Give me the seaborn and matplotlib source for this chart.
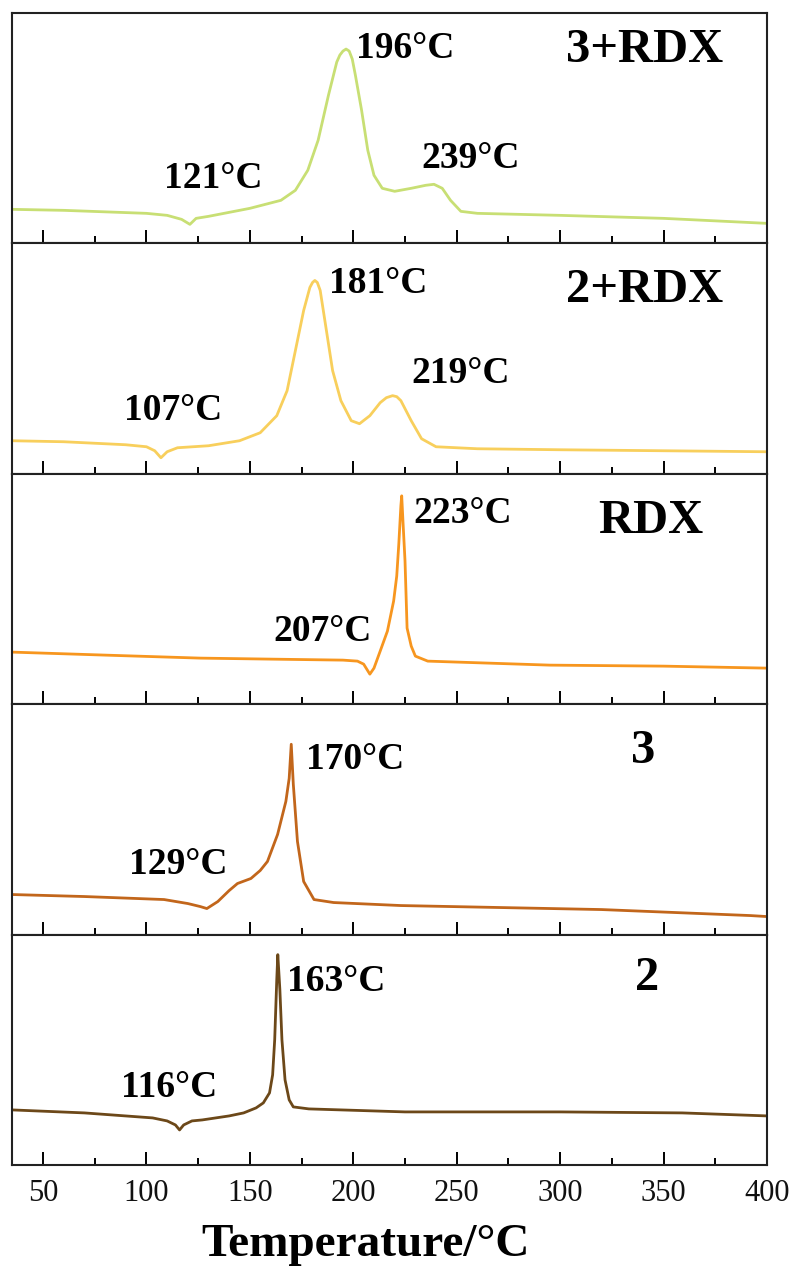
import matplotlib
matplotlib.use("Agg")
import matplotlib.pyplot as plt
from matplotlib.ticker import MultipleLocator
import seaborn as sns
import pandas as pd

# ---------------- data (arbitrary heat-flow units) ----------------
t_3rdx = [35, 60, 100, 110, 117, 121, 124, 130, 150, 165, 172, 178, 183, 188, 192, 193.5, 195, 196.5,
          198, 199.5, 201, 204, 207, 210, 214, 220, 228, 235, 239, 243, 247, 252, 260, 300, 350, 400]
s_3rdx = [34, 33, 30, 28, 24, 19, 25, 27, 35, 43, 53, 73, 103, 148, 181, 188, 192, 194,
          192, 184, 168, 133, 93, 68, 55, 52, 55, 58, 59, 55, 43, 32, 30, 28, 25, 20]

t_2rdx = [35, 60, 90, 100, 104, 107, 110, 115, 130, 145, 155, 163, 168, 172, 176, 179, 180.3, 181.4,
          182.6, 184, 187, 190, 194, 199, 203, 208, 213, 216, 219, 221, 223, 228, 233, 240, 260, 300, 350, 400]
s_2rdx = [33, 32, 29, 27, 23, 16, 22, 26, 28, 33, 41, 58, 83, 123, 163, 186, 191, 193,
          191, 183, 143, 103, 73, 53, 50, 58, 71, 76, 78, 77, 73, 53, 35, 27, 25, 24, 23, 22]

t_rdx = [35, 80, 126, 160, 195, 202, 205, 208, 210, 213, 216.5, 219.5, 221, 222, 223, 223.4,
         224, 225, 226, 228, 230, 236, 295, 350, 400]
s_rdx = [52, 49, 46, 45, 44, 43, 40, 30, 36, 53, 73, 103, 128, 160, 198, 208,
         183, 143, 76, 58, 48, 43, 39, 38, 36]

t_c3 = [35, 70, 108.5, 120, 126, 129.2, 134.5, 140, 144, 150.5, 155, 158.5, 163.4, 167.4, 169,
        170, 171, 173, 176, 181, 190.5, 223, 320, 392, 400]
s_c3 = [40, 38, 35, 31, 28, 26, 33, 44, 51, 56, 64, 73, 100, 133, 156,
        190, 150, 93, 53, 35, 32, 29, 25, 19, 18]

t_c2 = [35, 70, 103, 110, 114, 116, 118, 122, 127, 140, 147, 153, 156.5, 159.5, 161, 162, 163,
        163.5, 164.5, 165.5, 167, 169, 171, 178.5, 225, 300, 359, 400]
s_c2 = [55, 52, 47, 44, 40, 35, 40, 44, 45, 49, 52, 57, 62, 72, 90, 125, 185,
        210, 175, 125, 85, 65, 58, 56, 53, 53, 52, 49]

sample_names = ["3+RDX", "2+RDX", "RDX", "3", "2"]
series_t = [t_3rdx, t_2rdx, t_rdx, t_c3, t_c2]
series_s = [s_3rdx, s_2rdx, s_rdx, s_c3, s_c2]
colors = ["#c8df74", "#f8cf5c", "#f7961f", "#c2661b", "#6c4819"]

# peak annotations: (label, T position, signal position)
peak_labels = [
    [("196°C", 225, 195), ("121°C", 132.5, 65), ("239°C", 256.5, 85)],
    [("181°C", 212, 190), ("107°C", 113, 63), ("219°C", 252, 100)],
    [("223°C", 253, 190), ("207°C", 185, 73)],
    [("170°C", 201, 175), ("129°C", 115.5, 70)],
    [("163°C", 191.5, 183), ("116°C", 111, 77)],
]
name_pos = [(341, 193), (341, 183), (344, 183), (340, 183), (342, 187)]

x_ticks = [50, 100, 150, 200, 250, 300, 350, 400]

# ---------------- style ----------------
sns.set_style("white")
plt.rcParams["font.family"] = ["Liberation Serif", "DejaVu Serif"]

fig = plt.figure(figsize=(7.93, 12.79), dpi=100)
gs = fig.add_gridspec(5, 1, left=12 / 793, right=767 / 793,
                      top=1 - 13 / 1279, bottom=1 - 1165 / 1279, hspace=0)
axes = [fig.add_subplot(gs[i]) for i in range(5)]

for i, ax in enumerate(axes):
    df = pd.DataFrame({"T": series_t[i], "S": series_s[i]})
    sns.lineplot(data=df, x="T", y="S", ax=ax, color=colors[i], lw=2.0,
                 estimator=None, sort=False)
    ax.set_xlim(35, 400)
    ax.set_ylim(0, 230)
    ax.set_xlabel("")
    ax.set_ylabel("")
    ax.set_yticks([])
    ax.set_xticks(x_ticks)
    ax.xaxis.set_minor_locator(MultipleLocator(25))
    ax.tick_params(axis="x", which="major", direction="in", length=9.5, width=1.4,
                   color="black", bottom=True, top=False, pad=10, labelsize=22,
                   labelcolor="#111111")
    ax.tick_params(axis="x", which="minor", direction="in", length=5, width=1.4,
                   color="black", bottom=True, top=False)
    if i < 4:
        ax.tick_params(axis="x", which="both", labelbottom=False)
    for sp in ax.spines.values():
        sp.set_linewidth(1.5)
        sp.set_color("#222222")
    for txt, tx, sy in peak_labels[i]:
        ax.text(tx, sy, txt, ha="center", va="center", fontsize=27,
                fontweight="bold", color="black")
    nx, ny = name_pos[i]
    ax.text(nx, ny, sample_names[i], ha="center", va="center", fontsize=35,
            fontweight="bold", color="black")

fig.text(366 / 793, 1 - 1245 / 1279, "Temperature/°C", ha="center", va="center",
         fontsize=34, fontweight="bold", color="black")

fig.savefig("out.png", dpi=100)
